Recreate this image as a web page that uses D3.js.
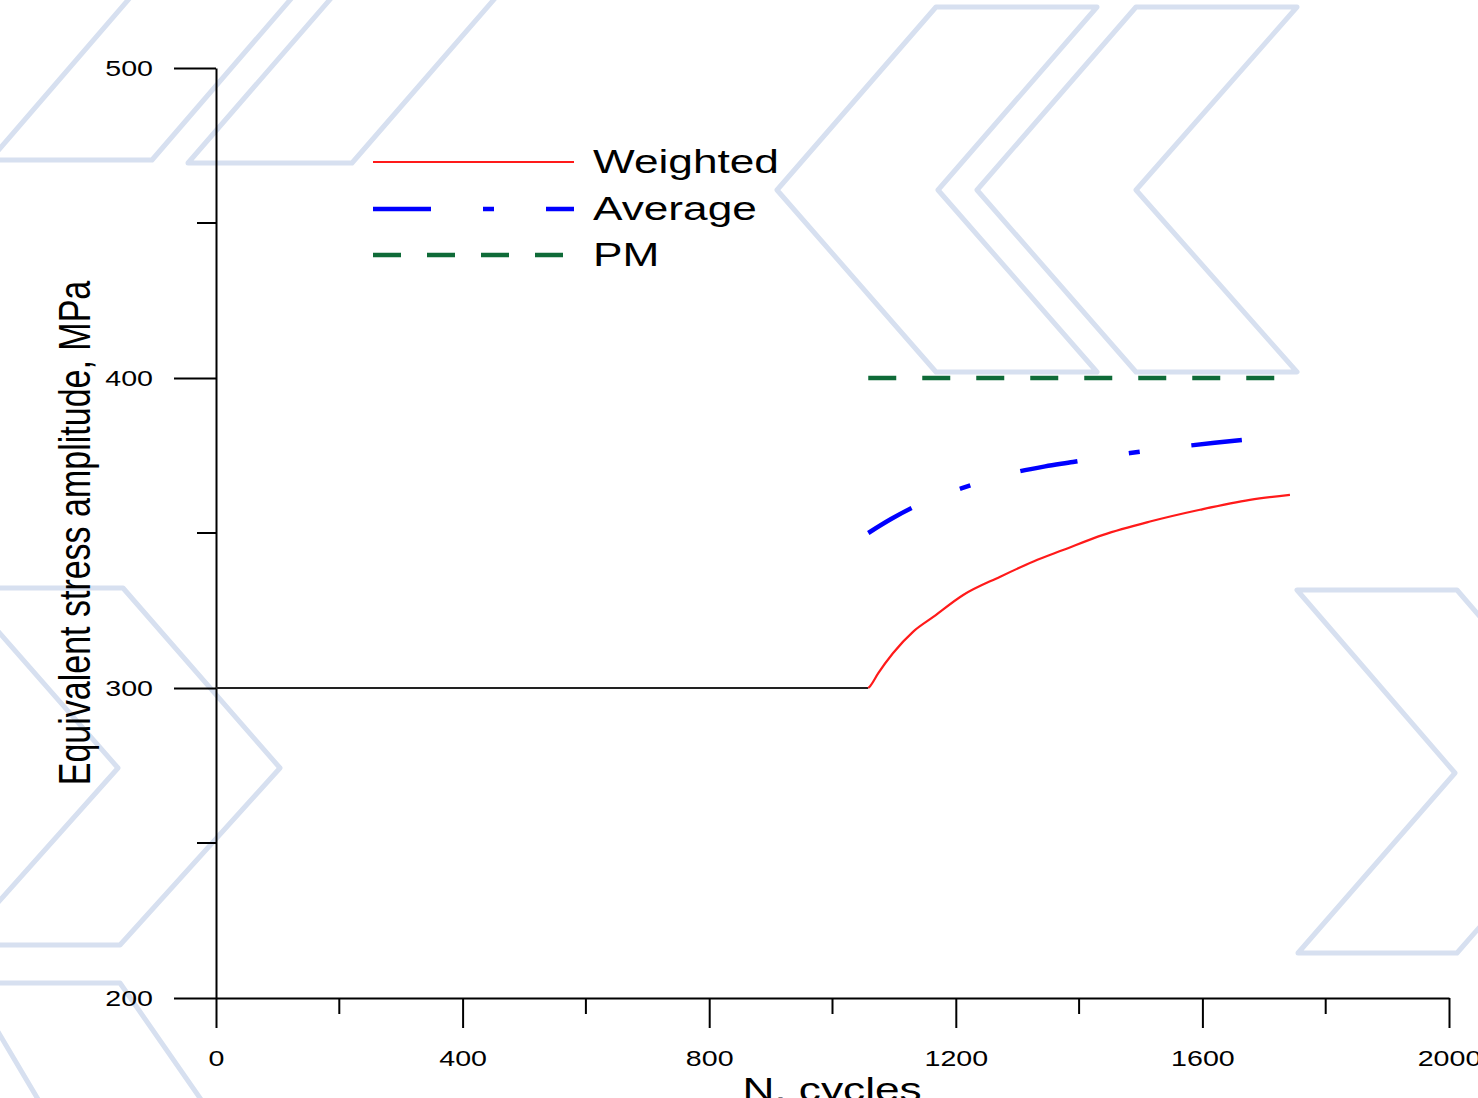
<!DOCTYPE html>
<html>
<head>
<meta charset="utf-8">
<script src="https://cdn.jsdelivr.net/npm/d3@7"></script>
<style>
  html, body { margin: 0; padding: 0; background: #ffffff; overflow: hidden; }
  svg { display: block; }
</style>
</head>
<body>
<svg id="chart" width="1478" height="1098"></svg>
<script>
// ---------------- data ----------------
const xTicks = [0, 400, 800, 1200, 1600, 2000];
const xMinorTicks = [200, 600, 1000, 1400, 1800];
const yTicks = [200, 300, 400, 500];
const yMinorTicks = [250, 350, 450];

// common initial segment (before the load change)
const baseN = [0, 1058];
const baseS = [300, 300];

// Weighted
const weightedN = [1058, 1061, 1074, 1098, 1131, 1164, 1212, 1272, 1326, 1374, 1439, 1515, 1596, 1677, 1742];
const weightedS = [300, 300.6, 304.7, 311.2, 318.2, 323.0, 330.0, 335.9, 340.8, 344.5, 349.4, 353.7, 357.5, 360.7, 362.3];

// Average
const averageN = [1058, 1095, 1129, 1170, 1210, 1255, 1299, 1345, 1390, 1437, 1483, 1530, 1575, 1620, 1664];
const averageS = [350.0, 354.5, 358.1, 361.6, 364.5, 367.3, 369.7, 371.5, 372.9, 374.5, 375.8, 377.0, 378.1, 379.1, 380.0];

// PM
const pmN = [1058, 1742];
const pmS = [400, 400];

const seriesNames = ["Weighted", "Average", "PM"];
const xTitle = "N, cycles";
const yTitle = "Equivalent stress amplitude, MPa";

// background watermark decoration (light blue chevron outlines)
const bgPattern = [
  [[-10,-204],[152,-204],[309,-22],[152,160],[-10,160],[147,-22]],
  [[188,-201],[352,-201],[510,-19],[352,163],[188,163],[346,-19]],
  [[936,7],[1097,7],[938,190],[1097,372],[936,372],[777,190]],
  [[1136,7],[1297,7],[1136,190],[1297,372],[1136,372],[977,190]],
  [[-40,588],[123,588],[280,768],[120,945],[-40,945],[118,768]],
  [[-31,983],[120,983],[250,1170],[80,1170]],
  [[1297,590],[1457,590],[1615,773],[1457,953],[1298,953],[1455,773]]
];

// ---------------- drawing ----------------
const FONT = "'Liberation Sans', Arial, Helvetica, sans-serif";
const STRETCH = 1.3;
const svg = d3.select("#chart");

const x = d3.scaleLinear().domain([0, 2000]).range([216, 1449]);
const y = d3.scaleLinear().domain([200, 500]).range([998, 68]);

// background decoration
svg.append("g")
  .selectAll("path")
  .data(bgPattern)
  .join("path")
  .attr("d", d => d3.line().curve(d3.curveLinearClosed)(d))
  .attr("fill", "none")
  .attr("stroke", "#d7e0f0")
  .attr("stroke-width", 5)
  .attr("stroke-linejoin", "round");

// Y axis
const gy = svg.append("g")
  .attr("transform", "translate(216,0)")
  .call(d3.axisLeft(y).tickValues(yTicks).tickSize(42).tickSizeOuter(0).tickFormat(d3.format("d")));
gy.selectAll("path.domain").attr("stroke", "#000").attr("stroke-width", 2);
gy.selectAll(".tick line").attr("stroke", "#000").attr("stroke-width", 2);
gy.selectAll(".tick text")
  .attr("x", 0).attr("dy", "0.32em")
  .attr("transform", `translate(-63,0) scale(${STRETCH},1)`)
  .attr("text-anchor", "end")
  .attr("fill", "#000")
  .style("font-family", FONT).style("font-size", "22px");
gy.selectAll("line.minor")
  .data(yMinorTicks)
  .join("line")
  .attr("class", "minor")
  .attr("x1", -19).attr("x2", 0)
  .attr("y1", d => y(d)).attr("y2", d => y(d))
  .attr("stroke", "#000").attr("stroke-width", 2);

// X axis
const gx = svg.append("g")
  .attr("transform", "translate(0,998)")
  .call(d3.axisBottom(x).tickValues(xTicks).tickSize(30).tickSizeOuter(0).tickFormat(d3.format("d")));
gx.selectAll("path.domain").attr("stroke", "#000").attr("stroke-width", 2);
gx.selectAll(".tick line").attr("stroke", "#000").attr("stroke-width", 2);
gx.selectAll(".tick text")
  .attr("y", 0).attr("dy", 0)
  .attr("transform", `translate(0,68) scale(${STRETCH},1)`)
  .attr("text-anchor", "middle")
  .attr("fill", "#000")
  .style("font-family", FONT).style("font-size", "22px");
gx.selectAll("line.minor")
  .data(xMinorTicks)
  .join("line")
  .attr("class", "minor")
  .attr("x1", d => x(d)).attr("x2", d => x(d))
  .attr("y1", 0).attr("y2", 16)
  .attr("stroke", "#000").attr("stroke-width", 2);

// titles
svg.append("text")
  .attr("transform", `translate(90,533) rotate(-90) scale(1,${STRETCH})`)
  .attr("text-anchor", "middle")
  .style("font-family", FONT).style("font-size", "34px")
  .attr("fill", "#000")
  .text(yTitle);

svg.append("text")
  .attr("transform", `translate(832,1101) scale(${STRETCH},1)`)
  .attr("text-anchor", "middle")
  .style("font-family", FONT).style("font-size", "34px")
  .attr("fill", "#000")
  .text(xTitle);

// series
const zip = (a, b) => a.map((v, i) => [v, b[i]]);
const straight = d3.line().x(d => x(d[0])).y(d => y(d[1]));
const smooth = d3.line().x(d => x(d[0])).y(d => y(d[1])).curve(d3.curveMonotoneX);

svg.append("path")
  .attr("d", straight(zip(baseN, baseS)))
  .attr("fill", "none").attr("stroke", "#222").attr("stroke-width", 2);

svg.append("path")
  .attr("d", smooth(zip(weightedN, weightedS)))
  .attr("fill", "none").attr("stroke", "#ff1a1a").attr("stroke-width", 2.2);

svg.append("path")
  .attr("d", smooth(zip(averageN, averageS)))
  .attr("fill", "none").attr("stroke", "#0000ff").attr("stroke-width", 4.5)
  .attr("stroke-dasharray", "58,52,11,52").attr("stroke-dashoffset", 8);

svg.append("path")
  .attr("d", straight(zip(pmN, pmS)))
  .attr("fill", "none").attr("stroke", "#0f6b38").attr("stroke-width", 4.5)
  .attr("stroke-dasharray", "28,26");

// legend
const legendStyles = [
  { color: "#ff1a1a", width: 2, dash: null },
  { color: "#0000ff", width: 4.5, dash: "58,52,11,52" },
  { color: "#0f6b38", width: 4.5, dash: "28,26" }
];
const legendY = [162, 209, 255];
const lg = svg.append("g");
seriesNames.forEach((name, i) => {
  const st = legendStyles[i];
  lg.append("line")
    .attr("x1", 373).attr("x2", 574)
    .attr("y1", legendY[i]).attr("y2", legendY[i])
    .attr("stroke", st.color).attr("stroke-width", st.width)
    .attr("stroke-dasharray", st.dash);
  lg.append("text")
    .attr("transform", `translate(593,${legendY[i] + 11}) scale(${STRETCH},1)`)
    .style("font-family", FONT).style("font-size", "34px")
    .attr("fill", "#000")
    .text(name);
});
</script>
</body>
</html>
